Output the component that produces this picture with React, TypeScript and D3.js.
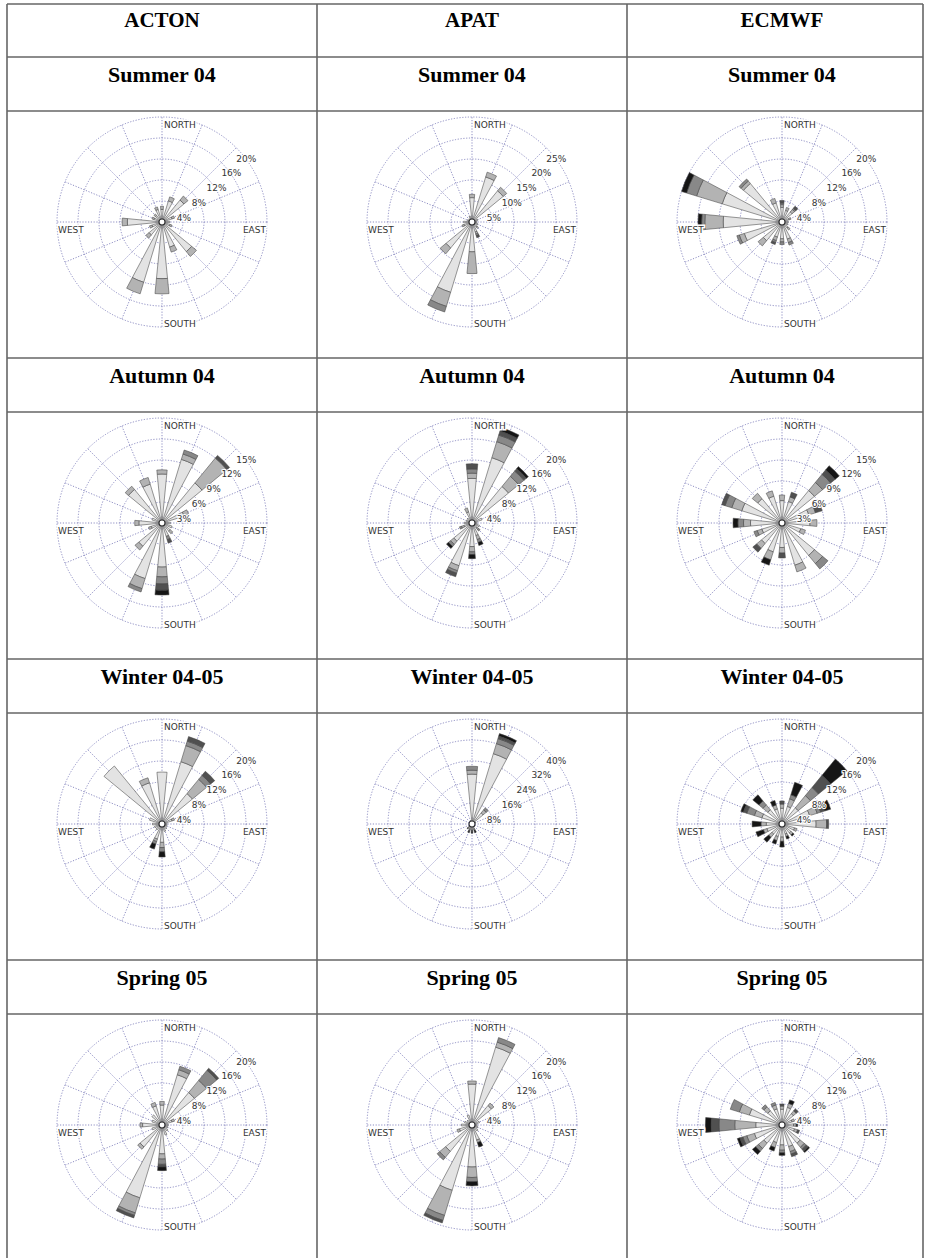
import React from 'react';
import * as d3 from 'd3';

// --- Table layout data ---
const columns = ['ACTON', 'APAT', 'ECMWF'];
const seasons = ['Summer 04', 'Autumn 04', 'Winter 04-05', 'Spring 05'];
const directions = ['N', 'NNE', 'NE', 'ENE', 'E', 'ESE', 'SE', 'SSE', 'S', 'SSW', 'SW', 'WSW', 'W', 'WNW', 'NW', 'NNW'];
// outer ring value (%) per season row / model column
const ringMax = [
  [20, 25, 20],
  [15, 20, 15],
  [20, 40, 20],
  [20, 20, 20],
];

// frequency (%) per direction, split in 5 wind speed classes (low -> high)
const actonSummer = [
  [2.4, 0.6, 0, 0, 0], [4.2, 0.8, 0, 0, 0], [5.4, 1.0, 0, 0, 0], [2.0, 0.5, 0, 0, 0],
  [1.5, 0, 0, 0, 0], [1.6, 0.4, 0, 0, 0], [7.3, 1.2, 0, 0, 0], [5.0, 1.0, 0, 0, 0],
  [10.8, 2.9, 0, 0, 0], [12.0, 2.3, 0, 0, 0], [3.2, 0.8, 0, 0, 0], [2.0, 0.5, 0, 0, 0],
  [6.6, 1.0, 0, 0, 0], [1.6, 0.4, 0, 0, 0], [1.6, 0.4, 0, 0, 0], [2.5, 0.5, 0, 0, 0],
];
const apatSummer = [
  [5.8, 0.8, 0, 0, 0], [11.2, 1.2, 0, 0, 0], [9.6, 1.1, 0, 0, 0], [1.5, 0, 0, 0, 0],
  [1.2, 0, 0, 0, 0], [1.5, 0, 0, 0, 0], [1.5, 0.5, 0, 0, 0], [2.5, 0.5, 0.4, 0.5, 0],
  [7.1, 5.2, 0, 0, 0], [17.5, 3.5, 1.4, 0, 0], [8.0, 1.8, 0, 0, 0], [2.0, 0.5, 0, 0, 0],
  [2.0, 0, 0, 0, 0], [1.2, 0, 0, 0, 0], [1.0, 0, 0, 0, 0], [1.5, 0, 0, 0, 0],
];
const ecmwfSummer = [
  [2.8, 0.5, 0.3, 0.5, 0], [2.3, 0.6, 0, 0, 0], [2.5, 0.6, 0.3, 0.5, 0], [1.4, 0.4, 0, 0, 0],
  [1.2, 0, 0, 0, 0], [1.2, 0, 0, 0, 0], [1.5, 0.5, 0, 0, 0], [3.4, 0.7, 0.5, 0, 0],
  [3.2, 0.6, 0.5, 0, 0], [3.0, 0.7, 0.4, 0.4, 0], [4.6, 1.3, 0, 0, 0], [7.5, 1.0, 0.5, 0, 0],
  [11.2, 3.5, 0.6, 0, 0.7], [11.9, 5.1, 2.0, 0, 1.0], [9.5, 0.6, 0.5, 0, 0], [3.8, 0.9, 0, 0, 0],
];
const actonAutumn = [
  [7.0, 0.6, 0, 0, 0], [9.5, 0.8, 0.6, 0, 0], [7.4, 4.6, 0, 0.5, 0], [3.3, 0.7, 0, 0, 0],
  [1.2, 0, 0, 0, 0], [1.5, 0, 0, 0, 0], [1.5, 0.5, 0, 0, 0], [2.0, 0, 0.5, 0.5, 0],
  [6.3, 1.4, 1.0, 0.9, 0.7], [8.3, 1.5, 0.5, 0, 0], [4.3, 0.7, 0, 0, 0], [1.6, 0.4, 0, 0, 0],
  [3.3, 0.6, 0, 0, 0], [1.5, 0, 0, 0, 0], [6.2, 0.6, 0, 0, 0], [5.8, 1.0, 0, 0, 0],
];
const apatAutumn = [
  [8.5, 1.0, 0.8, 1.0, 0], [13.0, 3.2, 1.3, 0.8, 0.7], [9.0, 2.5, 1.3, 0.6, 0.5], [2.0, 0, 0, 0, 0],
  [1.0, 0, 0, 0, 0], [1.5, 0, 0, 0, 0], [1.2, 0.4, 0.4, 0, 0], [2.5, 0.8, 0.6, 0, 0.6],
  [4.5, 1.0, 0.5, 0, 0.8], [8.5, 1.0, 0.5, 0.7, 0], [4.5, 0.8, 0.5, 0, 0.5], [1.6, 0.5, 0.4, 0, 0],
  [1.5, 0, 0, 0, 0], [1.2, 0, 0, 0, 0], [1.2, 0, 0, 0, 0], [2.2, 0.8, 0, 0, 0],
];
const ecmwfAutumn = [
  [3.2, 0.8, 0, 0, 0], [3.2, 0.7, 0, 0.7, 0], [6.0, 1.5, 1.5, 0.8, 0.8], [4.0, 1.0, 0, 1.0, 0],
  [4.0, 1.0, 0, 0, 0], [2.8, 0.7, 0, 0, 0], [6.0, 1.5, 1.0, 0, 0], [6.3, 1.0, 0, 0, 0],
  [3.5, 0.8, 0, 0.7, 0], [4.3, 1.2, 0, 0, 0.8], [3.8, 0.9, 0, 0.7, 0], [3.0, 0.7, 0.5, 0, 0],
  [4.5, 1.0, 0.8, 0, 0.7], [6.0, 1.5, 1.0, 0.5, 0], [4.5, 1.0, 0, 0, 0], [4.0, 0.8, 0, 0, 0],
];
const actonWinter = [
  [9.9, 0, 0, 0, 0], [12.4, 3.2, 0.9, 0.9, 0], [7.5, 3.5, 1.0, 1.0, 0], [2.0, 0.5, 0, 0, 0],
  [1.0, 0, 0, 0, 0], [1.0, 0, 0, 0, 0], [1.2, 0, 0, 0, 0], [1.5, 0, 0, 0, 0],
  [3.5, 1.0, 0.8, 0, 1.0], [3.0, 0.5, 0.5, 0, 1.0], [1.5, 0, 0, 0, 0], [1.5, 0, 0, 0, 0],
  [1.8, 0, 0, 0, 0], [2.5, 0, 0, 0, 0], [14.3, 0, 0, 0, 0], [8.2, 1.0, 0, 0, 0],
];
const apatWinter = [
  [19.0, 1.5, 1.5, 0, 0], [28.0, 4.0, 2.0, 1.0, 1.0], [5.5, 1.5, 1.0, 0, 0], [1.5, 0, 0, 0, 0],
  [1.0, 0, 0, 0, 0], [1.0, 0, 0, 0, 0], [1.0, 0, 0, 0, 0], [2.0, 0.5, 0, 0, 1.0],
  [2.0, 0.5, 0, 0, 1.0], [2.0, 0.5, 0, 0.5, 0.5], [1.5, 0.5, 0, 0.5, 0], [1.0, 0, 0, 0, 0],
  [1.0, 0, 0, 0, 0], [1.0, 0, 0, 0, 0], [1.0, 0, 0, 0, 0], [1.5, 0, 0, 0, 0],
];
const ecmwfWinter = [
  [3.0, 0.8, 0, 0.6, 0], [3.5, 1.5, 0.8, 0, 2.5], [4.0, 3.0, 2.0, 3.0, 4.0], [5.5, 1.5, 0.7, 0.8, 1.2],
  [6.5, 2.0, 0, 0.4, 0], [2.5, 0.5, 0, 0, 0], [2.2, 0.5, 0, 0, 0.3], [2.0, 0.5, 0, 0, 0.5],
  [2.5, 0.8, 0, 0, 1.1], [2.5, 0.8, 0, 0, 0.7], [2.5, 0.8, 0, 0, 1.2], [3.0, 0.7, 0, 0, 1.5],
  [3.0, 1.0, 0, 0, 1.7], [4.0, 1.5, 1.5, 0.7, 0.5], [3.5, 1.2, 1.0, 0, 1.5], [3.0, 0.8, 0, 0, 0.9],
];
const actonSpring = [
  [3.8, 0.7, 0, 0, 0], [10.0, 1.0, 0.7, 0, 0], [8.0, 3.0, 2.5, 0.5, 0], [2.0, 0.5, 0, 0, 0],
  [1.2, 0, 0, 0, 0], [1.2, 0, 0, 0, 0], [1.5, 0, 0, 0, 0], [2.0, 0, 0, 0, 0],
  [5.5, 1.0, 1.0, 0.5, 0.7], [14.5, 3.0, 0.5, 0.5, 0], [5.4, 0.6, 0, 0, 0], [2.0, 0, 0, 0, 0],
  [3.7, 0.5, 0, 0, 0], [2.0, 0, 0, 0, 0], [2.5, 0, 0, 0, 0], [3.8, 0.7, 0, 0, 0],
];
const apatSpring = [
  [7.8, 0.6, 0, 0, 0], [15.5, 1.0, 0.9, 0, 0], [4.8, 0.6, 0, 0, 0], [1.5, 0, 0, 0, 0],
  [1.0, 0, 0, 0, 0], [1.2, 0, 0, 0, 0], [1.5, 0, 0, 0, 0], [3.0, 0.5, 0, 0, 0.9],
  [8.0, 2.0, 0.8, 0, 0.8], [13.0, 5.0, 1.0, 0.5, 0], [6.5, 1.5, 0.6, 0, 0], [2.5, 0.5, 0, 0, 0],
  [2.0, 0, 0, 0, 0], [1.5, 0, 0, 0, 0], [1.2, 0, 0, 0, 0], [2.0, 0, 0, 0, 0],
];
const ecmwfSpring = [
  [3.0, 0.6, 0, 0.4, 0], [3.5, 0.8, 0, 0, 0.7], [2.8, 0.7, 0, 0.5, 0], [2.0, 0.5, 0, 0, 0],
  [2.2, 0.5, 0, 0, 0.3], [2.5, 0.6, 0, 0.4, 0], [4.5, 1.0, 0.5, 0.5, 0.3], [4.3, 1.0, 0.5, 0.5, 0],
  [3.8, 1.0, 0.5, 0, 0.5], [3.5, 1.0, 0, 0, 0.7], [4.5, 1.3, 0.7, 0, 0.8], [5.5, 1.5, 0.8, 0.6, 0.5],
  [5.0, 4.0, 3.0, 1.5, 1.1], [6.5, 2.0, 1.8, 0, 0], [3.5, 1.0, 0.5, 0, 0], [3.2, 0.8, 0.5, 0, 0],
];

const roseData = [
  [actonSummer, apatSummer, ecmwfSummer],
  [actonAutumn, apatAutumn, ecmwfAutumn],
  [actonWinter, apatWinter, ecmwfWinter],
  [actonSpring, apatSpring, ecmwfSpring],
];

const speedColors = ['#e3e3e3', '#b3b3b3', '#888888', '#505050', '#151515'];

// --- Table geometry ---
const W = 926;
const H = 1258;
const colX = [7, 317, 627, 923];
const headerTop = 4;
const headerH = 53;
const titleH = 54;
const roseH = 247;
const R = 105;
const GRID = '#7a7ab8';

const WindRose: React.FC<{ cx: number; cy: number; max: number; data: number[][] }> = ({ cx, cy, max, data }) => {
  const r = d3.scaleLinear().domain([0, max]).range([0, R]);
  const rings = d3.range(1, 6).map(k => (max * k) / 5);
  const step = (2 * Math.PI) / directions.length;
  const half = (5.6 * Math.PI) / 180;
  const arc = d3.arc<any>();

  return (
    <g transform={`translate(${cx},${cy})`}>
      {/* grid */}
      {rings.map(v => (
        <circle key={v} r={r(v)} fill="none" stroke={GRID} strokeWidth={0.85} strokeDasharray="1.2,1.6" />
      ))}
      {directions.map((d, i) => {
        const a = i * step;
        return (
          <line key={d} x1={0} y1={0} x2={R * Math.sin(a)} y2={-R * Math.cos(a)}
            stroke={GRID} strokeWidth={0.85} strokeDasharray="1.2,1.6" />
        );
      })}
      {/* wedges */}
      {data.map((classes, i) => {
        const a = i * step;
        const cum = [0, ...d3.cumsum(classes)];
        return (
          <g key={i}>
            {classes.map((v, k) => v > 0 ? (
              <path key={k}
                d={arc({ innerRadius: r(cum[k]), outerRadius: r(cum[k + 1]), startAngle: a - half, endAngle: a + half }) || ''}
                fill={speedColors[k]} stroke="#444" strokeWidth={0.55} />
            ) : null)}
          </g>
        );
      })}
      <circle r={3} fill="#fff" stroke="#333" strokeWidth={1.1} />
      {/* ring labels */}
      {rings.map(v => (
        <text key={v} x={r(v) * Math.SQRT1_2} y={-r(v) * Math.SQRT1_2 + 13.8}
          fontFamily="DejaVu Sans" fontSize={9} fill="#333"
          stroke="#fff" strokeWidth={2} paintOrder="stroke">{`${v}%`}</text>
      ))}
      {/* cardinal labels */}
      <g fontFamily="DejaVu Sans" fontSize={9} fill="#333" stroke="#fff" strokeWidth={3} paintOrder="stroke">
        <text x={2} y={-R + 10.5}>NORTH</text>
        <text x={2} y={R - 0.5}>SOUTH</text>
        <text x={-R + 1} y={10.5}>WEST</text>
        <text x={R - 1} y={10.5} textAnchor="end">EAST</text>
      </g>
    </g>
  );
};

export default function App() {
  // horizontal rule positions
  const rows: number[] = [headerTop, headerTop + headerH];
  seasons.forEach(() => {
    const last = rows[rows.length - 1];
    rows.push(last + titleH, last + titleH + roseH);
  });

  return (
    <svg width={W} height={H} style={{ position: 'absolute', left: 0, top: 0, background: '#fff' }}>
      <rect width={W} height={H} fill="#fff" />
      {/* header */}
      {columns.map((c, j) => (
        <text key={c} x={colX[j] + 155} y={headerTop + 23} textAnchor="middle"
          fontFamily="Liberation Serif" fontWeight="bold" fontSize={21}>{c}</text>
      ))}
      {seasons.map((s, i) => {
        const top = headerTop + headerH + i * (titleH + roseH);
        return (
          <g key={s}>
            {columns.map((c, j) => (
              <g key={c}>
                <text x={colX[j] + 155} y={top + 25} textAnchor="middle"
                  fontFamily="Liberation Serif" fontWeight="bold" fontSize={22}>{s}</text>
                <WindRose cx={colX[j] + 155} cy={top + titleH + 111} max={ringMax[i][j]} data={roseData[i][j]} />
              </g>
            ))}
          </g>
        );
      })}
      {/* table rules */}
      <g stroke="#666" strokeWidth={1.6}>
        {rows.filter(y => y < H).map(y => (
          <line key={y} x1={colX[0]} x2={colX[3]} y1={y} y2={y} />
        ))}
        {colX.map(x => (
          <line key={x} x1={x} x2={x} y1={headerTop} y2={H} />
        ))}
      </g>
    </svg>
  );
}
